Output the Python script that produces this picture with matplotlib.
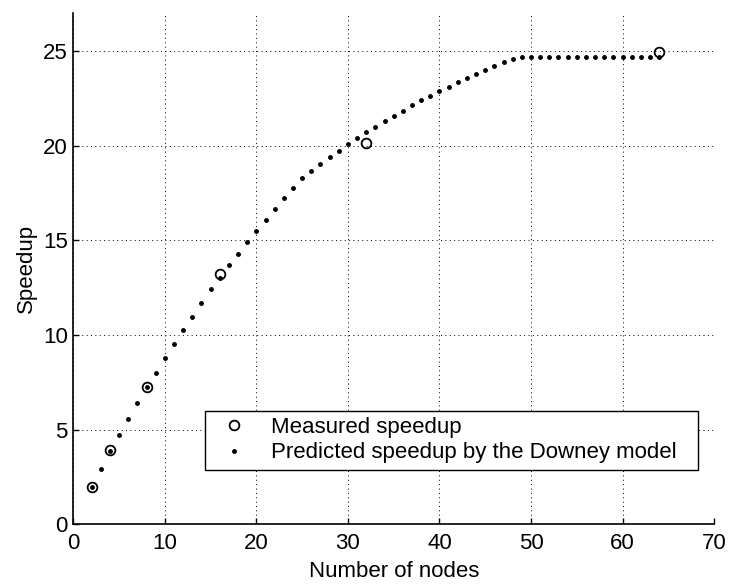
import matplotlib
matplotlib.use('Agg')
import matplotlib.pyplot as plt

# Measured speedup (circles)
measured_nodes = [2, 4, 8, 16, 32, 64]
measured_speedup = [1.99, 3.91, 7.23, 13.25, 20.17, 24.95]

# Predicted speedup by the Downey model (dots)
pred_nodes = list(range(2, 65))
pred_speedup = [1.97, 2.92, 3.86, 4.71, 5.59, 6.41, 7.23, 8.01, 8.80,
                9.55, 10.26, 10.96, 11.68, 12.45, 13.03, 13.68, 14.30, 14.92,
                15.52, 16.10, 16.67, 17.24, 17.79, 18.29, 18.67, 19.04, 19.40,
                19.74, 20.07, 20.40, 20.71, 21.01, 21.32, 21.58, 21.86, 22.14,
                22.40, 22.64, 22.88, 23.13, 23.36, 23.58, 23.80, 24.01, 24.22,
                24.42, 24.60, 24.68, 24.68, 24.68, 24.68, 24.68, 24.68, 24.68,
                24.68, 24.68, 24.68, 24.68, 24.68, 24.68, 24.68, 24.68, 24.68]

x_ticks = [0, 10, 20, 30, 40, 50, 60, 70]
y_ticks = [0, 5, 10, 15, 20, 25]

plt.rcParams['font.family'] = ['Liberation Sans', 'DejaVu Sans']
plt.rcParams['font.size'] = 16

fig = plt.figure(figsize=(7.32, 5.84), dpi=100)
ax = fig.add_axes([0.1002, 0.1022, 0.8753, 0.875])

ax.plot(measured_nodes, measured_speedup, linestyle='none', marker='o',
        markersize=7, markerfacecolor='none', markeredgecolor='black',
        markeredgewidth=1.3, label='Measured speedup', zorder=3)
ax.plot(pred_nodes, pred_speedup, linestyle='none', marker='.',
        markersize=5, color='black',
        label='Predicted speedup by the Downey model', zorder=3)

ax.set_xlim(0, 70)
ax.set_ylim(0, 27)
ax.set_xticks(x_ticks)
ax.set_yticks(y_ticks)
ax.tick_params(direction='in', length=4, width=1, labelsize=16)
ax.tick_params(axis='x', pad=6)
ax.tick_params(axis='y', pad=4)

ax.grid(True, color='black', linestyle=(0, (1, 3.5)), linewidth=0.7)
ax.spines['top'].set_visible(False)
ax.spines['right'].set_visible(False)
ax.spines['left'].set_linewidth(1.2)
ax.spines['bottom'].set_linewidth(1.2)

ax.set_xlabel('Number of nodes', fontsize=16, labelpad=5)
ax.set_ylabel('Speedup', fontsize=16, labelpad=4)

leg = ax.legend(loc='upper left', bbox_to_anchor=(0.2056, 0.2217, 0.769, 0.0),
                mode='expand', fontsize=16, frameon=True, fancybox=False,
                borderpad=0.28, labelspacing=0.19, handlelength=2.0,
                handletextpad=0.7, borderaxespad=0)
leg.get_frame().set_edgecolor('black')
leg.get_frame().set_linewidth(1.0)
leg.get_frame().set_alpha(1)

fig.savefig('out.png', dpi=100)
